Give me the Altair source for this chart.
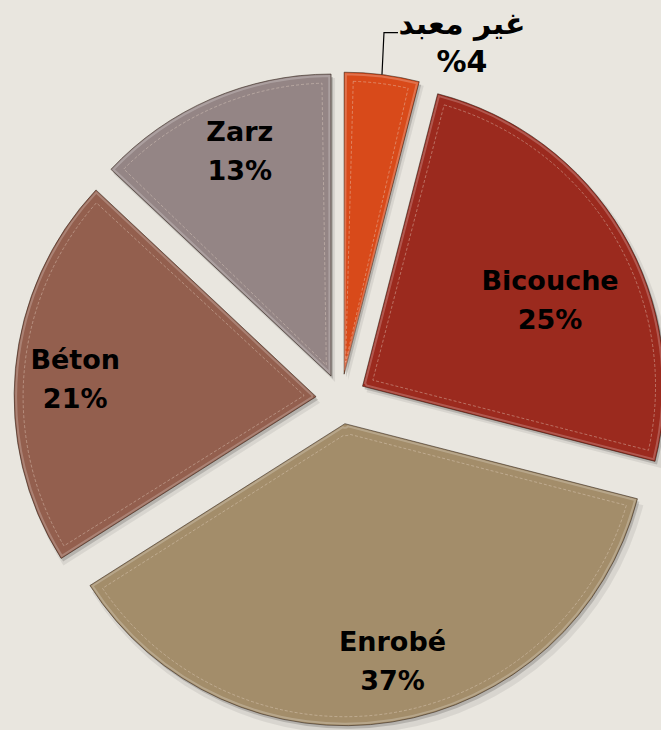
import math
import altair as alt
import pandas as pd

# ---- data ----
categories = ["غير معبد", "Bicouche", "Enrobé", "Béton", "Zarz"]
values = [4, 25, 37, 21, 13]

# ---- styling / layout ----
colors = ["#D84A1A", "#9B2A1E", "#A38D6A", "#935F4E", "#948585"]
W, H = 661, 730
CX, CY = 341, 399          # pie centre in pixels
R = 302                    # radius
EXPLODE = 25               # explode distance
LABEL_R = 240              # label distance from slice apex
LABEL_NUDGE = {"Bicouche": (-19, 37), "Béton": (-2, 6), "Enrobé": (10, 2), "Zarz": (4, -3)}
OUTSIDE = categories[0]
FONT = "DejaVu Sans"
BG = "#E9E6DF"
LINE_H = 39

total = float(sum(values))
rows = []
cum = 0.0
for c, v in zip(categories, values):
    start = cum / total * 100
    cum += v
    end = cum / total * 100
    mid = (start + end) / 2 / 100 * 2 * math.pi
    px = CX + EXPLODE * math.sin(mid)
    py = CY - EXPLODE * math.cos(mid)
    nx, ny = LABEL_NUDGE.get(c, (0, 0))
    lx = px + LABEL_R * math.sin(mid) + nx
    ly = py - LABEL_R * math.cos(mid) + ny
    if c == OUTSIDE:
        label = f"{c}\n%{v}"
    else:
        label = f"{c}\n{v}%"
    rows.append(dict(cat=c, value=v, start=start, end=end, mid=mid,
                     px=px, py=py, lx=lx, ly=ly, label=label))
df = pd.DataFrame(rows)

inside = df[df.cat != OUTSIDE]
out = df[df.cat == OUTSIDE].iloc[0]
# leader line for the outside label
ox = CX + (EXPLODE + R) * math.sin(out.mid)
oy = CY - (EXPLODE + R) * math.cos(out.mid)
leader = pd.DataFrame({
    "i": [0, 1, 2],
    "x": [ox, ox + 2, ox + 16],
    "y": [oy, oy - 42, oy - 42],
})
out_lab = pd.DataFrame({"x": [ox + 80], "y": [oy - 31], "label": [out.label]})

xs = alt.Scale(domain=[0, W], range=[0, W], nice=False, zero=False)
ys = alt.Scale(domain=[0, H], range=[0, H], nice=False, zero=False)
th = alt.Theta("start:Q", scale=alt.Scale(domain=[0, 100], range=[0, 2 * math.pi]), stack=False)
col = alt.Color("cat:N", scale=alt.Scale(domain=categories, range=colors), legend=None)

base = alt.Chart(df).encode(
    x=alt.X("px:Q", scale=xs, axis=None),
    y=alt.Y("py:Q", scale=ys, axis=None),
    theta=th,
    theta2="end:Q",
)

shadow2 = base.mark_arc(outerRadius=R + 2, color="#000000", opacity=0.07, xOffset=4, yOffset=6)
shadow = base.mark_arc(outerRadius=R, color="#000000", opacity=0.16, xOffset=2, yOffset=3)
main = base.mark_arc(outerRadius=R, stroke="#2b1d14", strokeWidth=1, strokeOpacity=0.55).encode(color=col)
hilite = base.mark_arc(outerRadius=R - 2, innerRadius=4, padAngle=0.012, filled=False,
                       stroke="#ffffff", strokeOpacity=0.22, strokeWidth=2)
inset = base.mark_arc(outerRadius=R - 9, innerRadius=12, padAngle=0.062, filled=False,
                      stroke="#e8d8c8", strokeOpacity=0.4, strokeWidth=1, strokeDash=[3, 2])

labels = alt.Chart(inside).mark_text(
    font=FONT, fontSize=27, fontWeight="bold", color="#000000",
    lineBreak="\n", lineHeight=LINE_H, align="center", baseline="middle", dy=-LINE_H / 2,
).encode(
    x=alt.X("lx:Q", scale=xs, axis=None),
    y=alt.Y("ly:Q", scale=ys, axis=None),
    text="label:N",
)

lead = alt.Chart(leader).mark_line(color="#000000", strokeWidth=1.2).encode(
    x=alt.X("x:Q", scale=xs, axis=None),
    y=alt.Y("y:Q", scale=ys, axis=None),
    order="i:Q",
)
out_text = alt.Chart(out_lab).mark_text(
    font=FONT, fontSize=30, fontWeight="bold", color="#000000",
    lineBreak="\n", lineHeight=38, align="center", baseline="middle", dy=-19,
).encode(
    x=alt.X("x:Q", scale=xs, axis=None),
    y=alt.Y("y:Q", scale=ys, axis=None),
    text="label:N",
)

chart = alt.layer(shadow2, shadow, main, hilite, inset, labels, lead, out_text).properties(
    width=W, height=H, background=BG, padding=0,
    autosize=alt.AutoSizeParams(type="none"),
).configure_view(strokeWidth=0)

chart.save("out.html", embed_options={"renderer": "svg", "actions": False})
